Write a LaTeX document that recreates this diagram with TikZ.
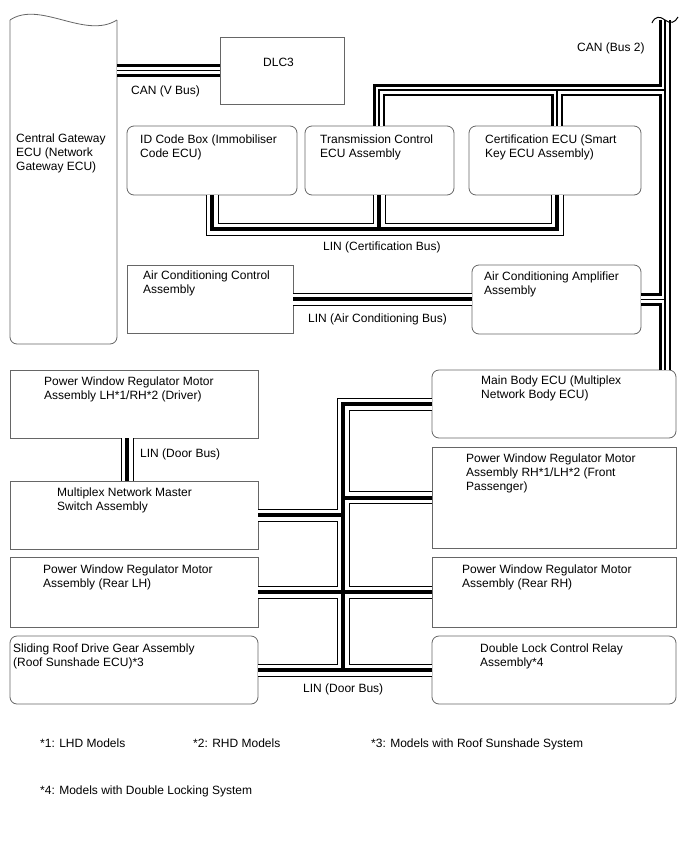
\documentclass[tikz,border=0pt]{standalone}
\usepackage{fontspec}
\setmainfont{Liberation Sans}
\usetikzlibrary{calc}
\newcommand\fl{\rule{0pt}{10pt}}
\begin{document}
\begin{tikzpicture}[x=1pt,y=-1pt,
  every node/.style={font=\fontsize{12}{14}\selectfont},
  bx/.style={draw=black!60, line width=0.8pt, inner sep=0pt, outer sep=0pt, anchor=north west},
  bxr/.style={bx, rounded corners=7pt},
  txt/.style={anchor=north west, inner sep=0pt, align=left},
  lab/.style={anchor=base west, inner sep=0pt},
  canbus/.style={line width=12.5pt, postaction={draw, white, line width=7pt}, postaction={draw, black, line width=1.2pt}},
  linbus/.style={line width=13pt, postaction={draw, white, line width=11pt}, postaction={draw, black, line width=4pt}},
]
\useasboundingbox[fill=white] (0,0) rectangle (688,852);

% boxes
\node[bx, draw=none, minimum width=107pt, minimum height=324pt] (gw) at (10,20) {};
\node[bx,  minimum width=124pt, minimum height=67pt] (dlc) at (220,37) {};
\node[bxr, minimum width=170pt, minimum height=69pt] (idbox) at (127,126) {};
\node[bxr, minimum width=149pt, minimum height=69pt] (trans) at (305,126) {};
\node[bxr, minimum width=172pt, minimum height=69pt] (cert) at (469,126) {};
\node[bx,  minimum width=166pt, minimum height=68pt] (acctl) at (127,265) {};
\node[bxr, minimum width=169pt, minimum height=69pt] (acamp) at (472,265) {};
\node[bxr, minimum width=244pt, minimum height=68pt] (mainbody) at (432,370) {};
\node[bx,  minimum width=248pt, minimum height=68pt] (driver) at (10,370) {};
\node[bx,  minimum width=248pt, minimum height=68pt] (master) at (10,481) {};
\node[bx,  minimum width=244pt, minimum height=101pt] (front) at (432,447) {};
\node[bx,  minimum width=248pt, minimum height=70pt] (rearlh) at (10,557) {};
\node[bx,  minimum width=244pt, minimum height=70pt] (rearrh) at (432,557) {};
\node[bxr, minimum width=248pt, minimum height=68pt] (sliding) at (10,636) {};
\node[bxr, minimum width=244pt, minimum height=68pt] (dlock) at (432,636) {};

% central gateway outline
\draw[line width=0.8pt, black!60] (gw.north west) .. controls +(30,-20) and +(-32,20) .. (gw.north east);
\draw[line width=0.8pt, black!60, rounded corners=7pt] (gw.north east) -- (gw.south east) -- (gw.south west) -- (gw.north west);

% coordinates
\coordinate (cantop) at (665,20);
\coordinate (cj) at (665,90);
\coordinate (tx) at (379,0);
\coordinate (cx) at (557,0);
\coordinate (lj) at (212,229);
\coordinate (dbx) at (127,0);
\coordinate (dx) at (343,0);

% CAN buses
\draw[canbus] (cantop) -- (cantop |- mainbody.north)
  (cj) -| (tx |- trans.north)
  (cx |- cj) -- (cx |- cert.north)
  (acamp.east) -- (acamp.east -| cantop);
\draw[canbus] (gw.east |- dlc.west) -- (dlc.west);
\draw[line width=1pt] (652,23) .. controls (655,16) and (660,16) .. (665,20) .. controls (670,24) and (675,23) .. (678,17);

% LIN buses
\draw[linbus] (lj |- idbox.south) -- (lj) -| (cx |- cert.south)
  (tx |- trans.south) -- (tx |- lj);
\draw[linbus] (acctl.east) -- (acctl.east -| acamp.west);
\draw[linbus] (dbx |- driver.south) -- (dbx |- master.north);
\draw[linbus] (mainbody.west) -| (dx |- sliding.east)
  (sliding.east) -- (dlock.west)
  (master.east) -- (master.east -| dx)
  (front.west) -- (front.west -| dx)
  (rearlh.east) -- (rearrh.west);

% texts
\node[txt] (tgw) at (16,132) {\fl Central Gateway\\ECU (Network\\Gateway ECU)};
\node[lab] (tdlc) at (263,66) {DLC3};
\node[txt] (tid) at (140,133) {\fl ID Code Box (Immobiliser\\Code ECU)};
\node[txt] (ttrans) at (320,133) {\fl Transmission Control\\ECU Assembly};
\node[txt] (tcert) at (485,133) {\fl Certification ECU (Smart\\Key ECU Assembly)};
\node[txt] (tacctl) at (143,269) {\fl Air Conditioning Control\\Assembly};
\node[txt] (tacamp) at (484,270) {\fl Air Conditioning Amplifier\\Assembly};
\node[txt] (tmain) at (481,374) {\fl Main Body ECU (Multiplex\\Network Body ECU)};
\node[txt] (tdriver) at (44,375) {\fl Power Window Regulator Motor\\Assembly LH*1/RH*2 (Driver)};
\node[txt] (tfront) at (466,452) {\fl Power Window Regulator Motor\\Assembly RH*1/LH*2 (Front\\Passenger)};
\node[txt] (tmaster) at (57,486) {\fl Multiplex Network Master\\Switch Assembly};
\node[txt] (trearlh) at (43,563) {\fl Power Window Regulator Motor\\Assembly (Rear LH)};
\node[txt] (trearrh) at (462,563) {\fl Power Window Regulator Motor\\Assembly (Rear RH)};
\node[txt] (tslide) at (13,642) {\fl Sliding Roof Drive Gear Assembly\\(Roof Sunshade ECU)*3};
\node[txt] (tdlock) at (480,642) {\fl Double Lock Control Relay\\Assembly*4};

% bus labels
\node[lab] (lcanv) at (131,94) {CAN (V Bus)};
\node[lab] (lcan2) at (577,51) {CAN (Bus 2)};
\node[lab] (lcert) at (323,250) {LIN (Certification Bus)};
\node[lab] (lac) at (308,322) {LIN (Air Conditioning Bus)};
\node[lab] (ldoor1) at (140,457) {LIN (Door Bus)};
\node[lab] (ldoor2) at (303,692) {LIN (Door Bus)};

% footnotes
\node[lab] (f1) at (40,747) {*1: LHD Models};
\node[lab] (f2) at (193,747) {*2: RHD Models};
\node[lab] (f3) at (371,747) {*3: Models with Roof Sunshade System};
\node[lab] (f4) at (40,794) {*4: Models with Double Locking System};
\end{tikzpicture}
\end{document}
